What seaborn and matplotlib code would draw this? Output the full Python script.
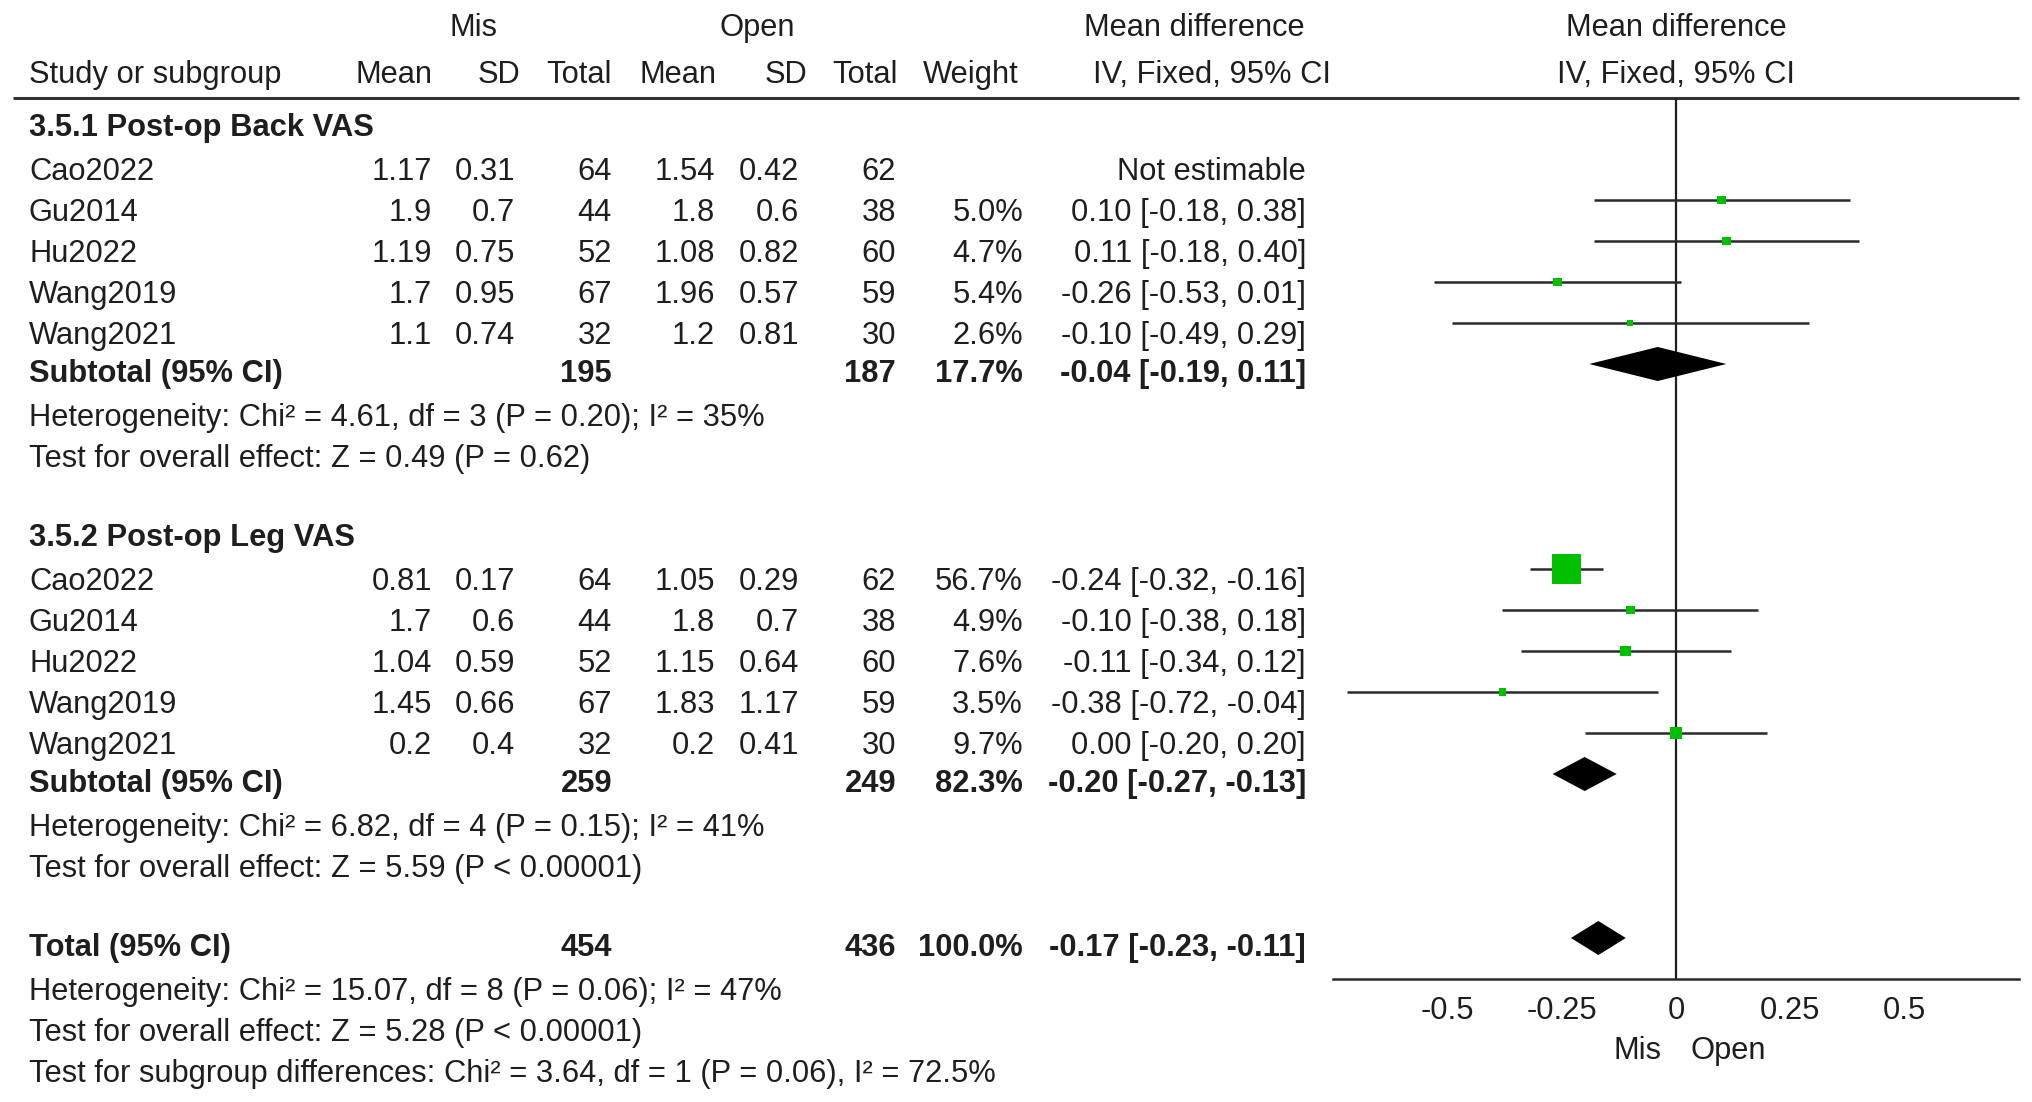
import matplotlib
matplotlib.use("Agg")
import matplotlib.pyplot as plt
import seaborn as sns
import pandas as pd

# ---- data ----
studies = ["Cao2022", "Gu2014", "Hu2022", "Wang2019", "Wang2021"]

back_mis_mean = [1.17, 1.9, 1.19, 1.7, 1.1]
back_mis_sd = [0.31, 0.7, 0.75, 0.95, 0.74]
back_mis_n = [64, 44, 52, 67, 32]
back_open_mean = [1.54, 1.8, 1.08, 1.96, 1.2]
back_open_sd = [0.42, 0.6, 0.82, 0.57, 0.81]
back_open_n = [62, 38, 60, 59, 30]
back_weight = [None, 5.0, 4.7, 5.4, 2.6]
back_md = [None, 0.10, 0.11, -0.26, -0.10]
back_lo = [None, -0.18, -0.18, -0.53, -0.49]
back_hi = [None, 0.38, 0.40, 0.01, 0.29]

leg_mis_mean = [0.81, 1.7, 1.04, 1.45, 0.2]
leg_mis_sd = [0.17, 0.6, 0.59, 0.66, 0.4]
leg_mis_n = [64, 44, 52, 67, 32]
leg_open_mean = [1.05, 1.8, 1.15, 1.83, 0.2]
leg_open_sd = [0.29, 0.7, 0.64, 1.17, 0.41]
leg_open_n = [62, 38, 60, 59, 30]
leg_weight = [56.7, 4.9, 7.6, 3.5, 9.7]
leg_md = [-0.24, -0.10, -0.11, -0.38, 0.00]
leg_lo = [-0.32, -0.38, -0.34, -0.72, -0.20]
leg_hi = [-0.16, 0.18, 0.12, -0.04, 0.20]

group_titles = ["3.5.1 Post-op Back VAS", "3.5.2 Post-op Leg VAS"]
sub_mis_n = [195, 259]
sub_open_n = [187, 249]
sub_weight = [17.7, 82.3]
sub_md = [-0.04, -0.20]
sub_lo = [-0.19, -0.27]
sub_hi = [0.11, -0.13]
sub_het = ["Heterogeneity: Chi² = 4.61, df = 3 (P = 0.20); I² = 35%",
           "Heterogeneity: Chi² = 6.82, df = 4 (P = 0.15); I² = 41%"]
sub_test = ["Test for overall effect: Z = 0.49 (P = 0.62)",
            "Test for overall effect: Z = 5.59 (P < 0.00001)"]

total_mis_n = 454
total_open_n = 436
total_weight = 100.0
total_md, total_lo, total_hi = -0.17, -0.23, -0.11
total_notes = ["Heterogeneity: Chi² = 15.07, df = 8 (P = 0.06); I² = 47%",
               "Test for overall effect: Z = 5.28 (P < 0.00001)",
               "Test for subgroup differences: Chi² = 3.64, df = 1 (P = 0.06), I² = 72.5%"]

ticks = [-0.5, -0.25, 0, 0.25, 0.5]
tick_labels = ["-0.5", "-0.25", "0", "0.25", "0.5"]

groups = [
    dict(mis_mean=back_mis_mean, mis_sd=back_mis_sd, mis_n=back_mis_n,
         open_mean=back_open_mean, open_sd=back_open_sd, open_n=back_open_n,
         weight=back_weight, md=back_md, lo=back_lo, hi=back_hi),
    dict(mis_mean=leg_mis_mean, mis_sd=leg_mis_sd, mis_n=leg_mis_n,
         open_mean=leg_open_mean, open_sd=leg_open_sd, open_n=leg_open_n,
         weight=leg_weight, md=leg_md, lo=leg_lo, hi=leg_hi),
]

# ---- style ----
sns.set_style("white")
plt.rcParams["font.family"] = ["Liberation Sans", "DejaVu Sans"]
FS = 22.2
INK = "#1e1e1e"
GREEN = "#00c000"

W, H = 2032, 1102
fig = plt.figure(figsize=(W / 100, H / 100), dpi=100)
y_top_px, y_axis_px = 97.5, 979
ax_b = 1 - y_axis_px / H
ax_h = (y_axis_px - y_top_px) / H
x0_px, x1_px = 1333.3, 2018.8
tab = fig.add_axes([0, ax_b, x0_px / W, ax_h])
fp = fig.add_axes([x0_px / W, ax_b, (x1_px - x0_px) / W, ax_h])
ylim = (21, -0.5)
tab.set_xlim(0, x0_px)
tab.set_ylim(*ylim)
tab.axis("off")

# text baselines sit a bit under the mark rows; bold rows a touch higher
BASE = 0.51
BOLD_LIFT = 0.08

# column right edges (pixels) for values / headers
col_val = [432, 515, 612, 715, 799, 896, 1023]
col_head = [433, 520, 612, 716, 807, 898, 1019]
ci_right = 1306
label_x = 29


def put(x, r, s, ha="right", bold=False):
    y = r + BASE - (BOLD_LIFT if bold else 0)
    tab.text(x, y, s, ha=ha, va="baseline", fontsize=FS,
             fontweight="bold" if bold else "normal", color=INK)


def fmt_ci(m, lo, hi):
    return f"{m:.2f} [{lo:.2f}, {hi:.2f}]"


# headers
tab.text(473, -2.0, "Mis", ha="center", va="baseline", fontsize=FS, color=INK)
tab.text(757, -2.0, "Open", ha="center", va="baseline", fontsize=FS, color=INK)
tab.text(1194, -2.0, "Mean difference", ha="center", va="baseline", fontsize=FS, color=INK)
tab.text(1212, -0.86, "IV, Fixed, 95% CI", ha="center", va="baseline", fontsize=FS, color=INK)
tab.text(label_x, -0.86, "Study or subgroup", ha="left", va="baseline", fontsize=FS, color=INK)
for x, h in zip(col_head, ["Mean", "SD", "Total", "Mean", "SD", "Total", "Weight"]):
    tab.text(x, -0.86, h, ha="right", va="baseline", fontsize=FS, color=INK)
tab.plot([13, 2019], [ylim[1], ylim[1]], color="#333333", lw=2.2, clip_on=False,
         solid_capstyle="butt")

fp.text(0, -2.0, "Mean difference", ha="center", va="baseline", fontsize=FS, color=INK)
fp.text(0, -0.86, "IV, Fixed, 95% CI", ha="center", va="baseline", fontsize=FS, color=INK)

# ---- table body + collect forest marks ----
pts = []
ci_rows = []
diamonds = []
for gi, g in enumerate(groups):
    r0 = gi * 10
    put(label_x, r0, group_titles[gi], ha="left", bold=True)
    for i, name in enumerate(studies):
        r = r0 + 1 + i
        put(label_x, r, name, ha="left")
        vals = [g["mis_mean"][i], g["mis_sd"][i], g["mis_n"][i],
                g["open_mean"][i], g["open_sd"][i], g["open_n"][i]]
        for x, v in zip(col_val[:6], vals):
            put(x, r, str(v))
        if g["md"][i] is None:
            put(ci_right, r, "Not estimable")
        else:
            put(col_val[6], r, f"{g['weight'][i]:.1f}%")
            put(ci_right, r, fmt_ci(g["md"][i], g["lo"][i], g["hi"][i]))
            pts.append(dict(md=g["md"][i], row=r, weight=g["weight"][i]))
            ci_rows.append((r, g["lo"][i], g["hi"][i]))
    rs = r0 + 6
    put(label_x, rs, "Subtotal (95% CI)", ha="left", bold=True)
    put(col_val[2], rs, str(sub_mis_n[gi]), bold=True)
    put(col_val[5], rs, str(sub_open_n[gi]), bold=True)
    put(col_val[6], rs, f"{sub_weight[gi]:.1f}%", bold=True)
    put(ci_right, rs, fmt_ci(sub_md[gi], sub_lo[gi], sub_hi[gi]), bold=True)
    diamonds.append((rs, sub_md[gi], sub_lo[gi], sub_hi[gi]))
    put(label_x, rs + 1, sub_het[gi], ha="left")
    put(label_x, rs + 2, sub_test[gi], ha="left")

rt = 20
put(label_x, rt, "Total (95% CI)", ha="left", bold=True)
put(col_val[2], rt, str(total_mis_n), bold=True)
put(col_val[5], rt, str(total_open_n), bold=True)
put(col_val[6], rt, f"{total_weight:.1f}%", bold=True)
put(ci_right, rt, fmt_ci(total_md, total_lo, total_hi), bold=True)
diamonds.append((rt, total_md, total_lo, total_hi))
for k, note in enumerate(total_notes):
    put(label_x, rt + 1 + k, note, ha="left")

# ---- forest plot ----
fp.axvline(0, color=INK, lw=1.6, zorder=1)
for r, lo, hi in ci_rows:
    fp.hlines(r, lo, hi, color="#2a2a2a", lw=1.8, zorder=2)

df = pd.DataFrame(pts)
sns.scatterplot(data=df, x="md", y="row", size="weight", sizes=(0, 440),
                size_norm=(0, 56.7), marker="s", color=GREEN, linewidth=0,
                legend=False, ax=fp, zorder=3)

half = 0.415
for r, m, lo, hi in diamonds:
    fp.fill([lo, m, hi, m], [r, r - half, r, r + half], color="black", lw=0, zorder=3)

fp.set_xlim(-0.75, 0.75)
fp.set_ylim(*ylim)
fp.set_xticks(ticks)
fp.set_xticklabels(tick_labels)
fp.set_yticks([])
fp.set_xlabel("")
fp.set_ylabel("")
sns.despine(ax=fp, left=True, top=True, right=True)
fp.spines["bottom"].set_linewidth(1.8)
fp.spines["bottom"].set_color("#2a2a2a")
fp.tick_params(axis="x", direction="inout", length=15, width=1.6, pad=5,
               labelsize=FS, colors=INK)
fp.patch.set_alpha(0)

fp.text(-0.031, 22.95, "Mis", ha="right", va="baseline", fontsize=FS, color=INK)
fp.text(0.031, 22.95, "Open", ha="left", va="baseline", fontsize=FS, color=INK)

fig.savefig("out.png", dpi=100)
